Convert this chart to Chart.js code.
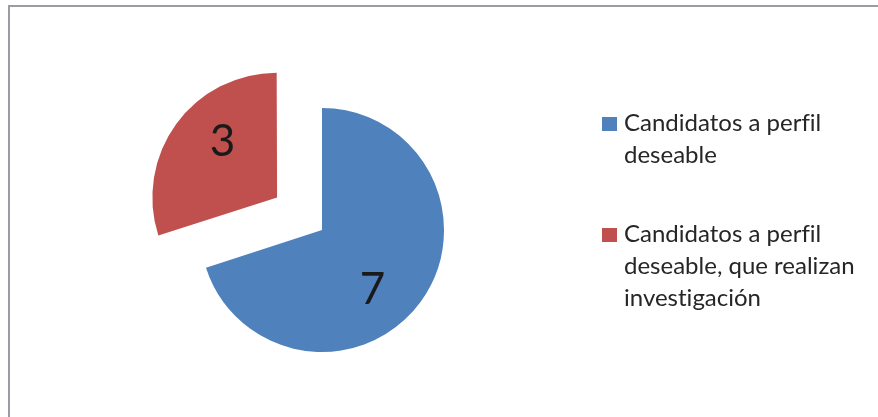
<!DOCTYPE html>
<html>
<head>
<meta charset="utf-8">
<script src="https://cdn.jsdelivr.net/npm/chart.js@4.4.1/dist/chart.umd.min.js"></script>
<style>
  html, body { margin: 0; padding: 0; background: #fff; overflow: hidden; }
  #wrap { position: relative; width: 878px; height: 417px; }
  #frame {
    position: absolute; left: 8px; top: 5px; width: 900px; height: 440px;
    border-top: 2px solid #9d9ba1; border-left: 2px solid #9d9ba1;
  }
  #canvas { position: absolute; left: 0; top: 0; }
  #legend {
    position: absolute; left: 602px; top: 0;
    font-family: Lato, "Open Sans", sans-serif; font-size: 24px; line-height: 32px;
    color: #262626; white-space: nowrap;
    font-variant-ligatures: none; font-feature-settings: "liga" 0, "clig" 0;
  }
  .item { position: absolute; left: 0; }
  .item span.box { position: absolute; left: 0; top: 11px; width: 15px; height: 14px; }
  .item div.txt { margin-left: 22px; }
</style>
</head>
<body>
<div id="wrap">
  <div id="frame"></div>
  <canvas id="canvas" width="878" height="417"></canvas>
  <div id="legend"></div>
</div>
<script>
const labels = [
  "Candidatos a perfil deseable",
  "Candidatos a perfil deseable, que realizan investigación",
];
// legend lines as they wrap in the original
const legendLines = [
  ["Candidatos a perfil", "deseable"],
  ["Candidatos a perfil", "deseable, que realizan", "investigación"],
];
const values = [7, 3];
const colors = ["#4F81BD", "#C0504D"];
const offsets = [0, 222];

// legend
const legend = document.getElementById("legend");
const legendTops = [106, 217];
legendLines.forEach((lines, i) => {
  const item = document.createElement("div");
  item.className = "item";
  item.style.top = legendTops[i] + "px";
  item.innerHTML = '<span class="box" style="background:' + colors[i] + '"></span>' +
    '<div class="txt">' + lines.join("<br>") + "</div>";
  legend.appendChild(item);
});

// value labels drawn at each slice
const sliceLabels = {
  id: "sliceLabels",
  afterDatasetsDraw(chart) {
    const ctx = chart.ctx;
    const meta = chart.getDatasetMeta(0);
    ctx.save();
    ctx.font = "44px Lato, 'Open Sans', sans-serif";
    ctx.fillStyle = "#1a1a1a";
    ctx.textAlign = "center";
    ctx.textBaseline = "alphabetic";
    meta.data.forEach((arc, i) => {
      const p = arc.getProps(["x", "y", "startAngle", "endAngle", "outerRadius", "circumference"], true);
      const half = (p.startAngle + p.endAngle) / 2;
      const off = offsets[i] / 4;
      const shift = off * (2 - Math.sin(Math.min(Math.PI, p.circumference)));
      const cx = p.x + (off ? Math.cos(half) * shift : 0);
      const cy = p.y + (off ? Math.sin(half) * shift : 0);
      const a = half + 0.21;
      const r = p.outerRadius * 0.63;
      ctx.fillText(String(values[i]), cx + Math.cos(a) * r - 1, cy + Math.sin(a) * r + 17);
    });
    ctx.restore();
  },
};

new Chart("canvas", {
  type: "pie",
  data: {
    labels: labels,
    datasets: [
      {
        data: values,
        backgroundColor: colors,
        borderWidth: 0,
        offset: offsets,
        hoverOffset: 0,
        radius: 122,
        clip: false,
      },
    ],
  },
  options: {
    responsive: false,
    animation: false,
    layout: { padding: { left: 0, right: 234, top: 43, bottom: 0 } },
    plugins: {
      legend: { display: false },
      tooltip: { enabled: false },
    },
  },
  plugins: [sliceLabels],
});
</script>
</body>
</html>
